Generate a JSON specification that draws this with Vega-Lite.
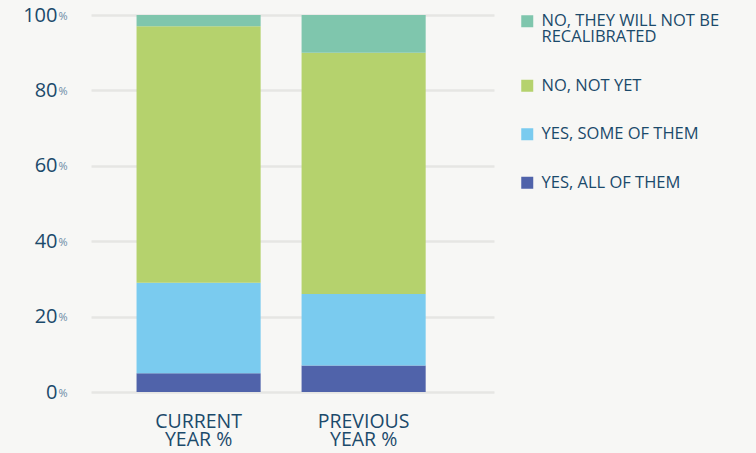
{
  "$schema": "https://vega.github.io/schema/vega-lite/v6.json",
  "width": 403,
  "height": 377,
  "autosize": {"type": "none"},
  "padding": {"left": 91, "top": 15, "right": 262, "bottom": 61},
  "background": "#f7f7f5",
  "config": {"view": {"stroke": null}, "font": "Open Sans"},
  "data": {
    "values": [
      {"period": "CURRENT YEAR %", "response": "YES, ALL OF THEM", "rank": 1, "value": 5},
      {"period": "CURRENT YEAR %", "response": "YES, SOME OF THEM", "rank": 2, "value": 24},
      {"period": "CURRENT YEAR %", "response": "NO, NOT YET", "rank": 3, "value": 68},
      {"period": "CURRENT YEAR %", "response": "NO, THEY WILL NOT BE RECALIBRATED", "rank": 4, "value": 3},
      {"period": "PREVIOUS YEAR %", "response": "YES, ALL OF THEM", "rank": 1, "value": 7},
      {"period": "PREVIOUS YEAR %", "response": "YES, SOME OF THEM", "rank": 2, "value": 19},
      {"period": "PREVIOUS YEAR %", "response": "NO, NOT YET", "rank": 3, "value": 64},
      {"period": "PREVIOUS YEAR %", "response": "NO, THEY WILL NOT BE RECALIBRATED", "rank": 4, "value": 10}
    ]
  },
  "encoding": {
    "x": {
      "field": "period",
      "type": "nominal",
      "sort": ["CURRENT YEAR %", "PREVIOUS YEAR %"],
      "scale": {"paddingInner": 0.248, "paddingOuter": 0.345, "align": 0.4},
      "axis": {
        "title": null,
        "labelAngle": 0,
        "domain": false,
        "ticks": false,
        "labelFontSize": 19.5,
        "labelColor": "#1b4a6b",
        "labelPadding": 20,
        "labelLineHeight": 18,
        "labelExpr": "[slice(datum.label, 0, indexof(datum.label, ' ')), slice(datum.label, indexof(datum.label, ' ') + 1)]"
      }
    }
  },
  "layer": [
    {
      "mark": {"type": "bar"},
      "encoding": {
        "y": {
          "field": "value",
          "type": "quantitative",
          "stack": "zero",
          "scale": {"domain": [0, 100]},
          "axis": {
            "title": null,
            "values": [0, 20, 40, 60, 80, 100],
            "domain": false,
            "ticks": false,
            "grid": true,
            "gridColor": "#e6e6e3",
            "gridWidth": 2.5,
            "labelFontSize": 20,
            "labelColor": "#1b4a6b",
            "labelPadding": 34,
            "labelAlign": "right",
            "labelBaseline": "middle"
          }
        },
        "color": {
          "field": "response",
          "type": "nominal",
          "scale": {
            "domain": ["NO, THEY WILL NOT BE RECALIBRATED", "NO, NOT YET", "YES, SOME OF THEM", "YES, ALL OF THEM"],
            "range": ["#7fc6ad", "#b5d26d", "#7acbef", "#5063aa"]
          },
          "legend": {
            "title": null,
            "orient": "none",
            "legendX": 428,
            "legendY": -2,
            "symbolType": "square",
            "symbolSize": 144,
            "symbolStrokeWidth": 0,
            "labelFontSize": 16.5,
            "labelColor": "#1b4a6b",
            "labelOffset": 6,
            "rowPadding": 31.5,
            "labelLimit": 300,
            "labelExpr": "datum.label == 'NO, THEY WILL NOT BE RECALIBRATED' ? ['NO, THEY WILL NOT BE', 'RECALIBRATED'] : datum.label",
            "encode": {"labels": {"update": {"lineHeight": {"value": 15.5}}}}
          }
        },
        "order": {"field": "rank", "type": "quantitative", "sort": "ascending"}
      }
    },
    {
      "mark": {"type": "bar", "opacity": 0},
      "encoding": {
        "y": {
          "field": "value",
          "type": "quantitative",
          "stack": "zero",
          "scale": {"domain": [0, 100]},
          "axis": {
            "orient": "left",
            "title": null,
            "values": [0, 20, 40, 60, 80, 100],
            "domain": false,
            "ticks": false,
            "grid": false,
            "labelFontSize": 11,
            "labelColor": "#6b8aa5",
            "labelPadding": 24,
            "labelAlign": "right",
            "labelBaseline": "middle",
            "labelOffset": 1,
            "labelExpr": "'%'"
          }
        },
        "detail": {"field": "response"},
        "order": {"field": "rank", "type": "quantitative", "sort": "ascending"}
      }
    }
  ],
  "resolve": {"axis": {"y": "independent"}}
}
